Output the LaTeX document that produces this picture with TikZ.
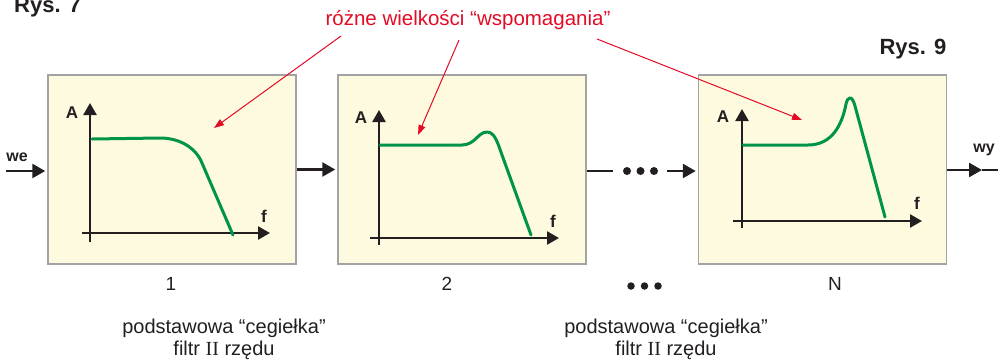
\documentclass[tikz,border=0pt]{standalone}
\usepackage{fontspec}
\setmainfont{Liberation Sans}
\newfontfamily\romfont{Liberation Serif}
\usetikzlibrary{arrows.meta}
\definecolor{boxfill}{HTML}{FEFAE0}
\definecolor{boxedge}{HTML}{A3A3A3}
\definecolor{curvegreen}{HTML}{00944A}
\definecolor{annred}{HTML}{E30B25}
\definecolor{ink}{HTML}{231F20}
\begin{document}
\begin{tikzpicture}[x=1pt,y=-1pt,
 blk/.style={draw=boxedge,line width=1.5pt,fill=boxfill,minimum width=248pt,minimum height=189pt,inner sep=0pt},
 axis/.style={ink,line width=2.4pt,-{Triangle[length=12pt,width=13pt]}},
 conn/.style={ink,line width=2.6pt},
 arr/.style={conn,-{Triangle[length=13pt,width=14pt]}},
 resp/.style={curvegreen,line width=3pt,line cap=round,line join=round},
 pointer/.style={annred,line width=1pt,-{Triangle[length=10pt,width=7pt]}},
 axlbl/.style={ink,font=\fontsize{17}{17}\bfseries\selectfont,inner sep=0pt},
 iolbl/.style={ink,font=\fontsize{16}{16}\bfseries\selectfont,inner sep=0pt},
 title/.style={ink,font=\fontsize{22}{22}\bfseries\selectfont,inner sep=0pt},
 num/.style={ink,font=\fontsize{19}{19}\selectfont,inner sep=0pt},
 caption/.style={ink,font=\fontsize{20}{22}\selectfont,align=center,inner sep=0pt},
 dot/.style={circle,fill=ink,inner sep=0pt,minimum size=8pt}
]
\useasboundingbox (0,0) rectangle (998,360);

% titles
\node[title,anchor=base west] (rys7) at (14,12) {Rys. 7};
\node[title] (rys9) at (913,49) {Rys. 9};

% red annotation
\node[annred,font=\fontsize{20.5}{21}\selectfont,inner sep=0pt] (note) at (468,20) {różne wielkości “wspomagania”};

% blocks
\node[blk] (b1) at (172,169.5) {};
\node[blk] (b2) at (462,169.5) {};
\node[blk] (b3) at (822.5,169.5) {};

% block 1 plot
\draw[axis] (82,233) -- (270,233);
\draw[axis] (90,242) -- (90,103);
\node[axlbl] (a1) at (72,113) {A};
\node[axlbl] (f1) at (264,216) {f};
\draw[resp] (92,139) -- (160,138) .. controls (180,138) and (196,148) .. (202,163) -- (233,235);

% block 2 plot
\draw[axis] (370,238) -- (559,238);
\draw[axis] (379,245) -- (379,110);
\node[axlbl] (a2) at (361,118) {A};
\node[axlbl] (f2) at (553,221) {f};
\draw[resp] (380,145) -- (462,145) .. controls (475,145) and (478,132) .. (487,132) .. controls (495,132) and (498,144) .. (502,155) -- (531,235);

% block 3 plot
\draw[axis] (733,221) -- (922,221);
\draw[axis] (742,228) -- (742,109);
\node[axlbl] (a3) at (723,117) {A};
\node[axlbl] (f3) at (917,203) {f};
\draw[resp] (743,145) -- (808,145) .. controls (832,145) and (842,125) .. (846,104) .. controls (848,96) and (852,95) .. (855,106) -- (885,217);

% signal path
\coordinate (in) at (6,171);
\node[iolbl] (we) at (17,157) {we};
\draw[arr] (in) -- ([xshift=-2pt]b1.west |- in);
\draw[arr] (b1.east) -- ([xshift=-2pt]b2.west);
\coordinate (gapA) at (613,171);
\coordinate (gapB) at (667,171);
\draw[conn] (b2.east |- gapA) -- (gapA);
\node[dot] (d1) at (627,171) {};
\node[dot] (d2) at (640.5,171) {};
\node[dot] (d3) at (654,171) {};
\draw[arr] (gapB) -- ([xshift=-2pt]b3.west |- gapB);
\coordinate (outtip) at (982,170);
\coordinate (out) at (998,170);
\draw[arr] (b3.east |- outtip) -- (outtip);
\draw[conn] (outtip) -- (out);
\node[iolbl] (wy) at (984,150) {wy};

% red pointers
\coordinate (p1) at (341,36);
\coordinate (p2) at (459,40);
\coordinate (p3) at (597,39);
\coordinate (t1) at (214,128);
\coordinate (t2) at (418,135);
\coordinate (t3) at (802,120);
\draw[pointer] (p1) -- (t1);
\draw[pointer] (p2) -- (t2);
\draw[pointer] (p3) -- (t3);

% numbers
\node[num] (n1) at (171,284) {1};
\node[num] (n2) at (447,284) {2};
\node[dot,minimum size=7.5pt] (e1) at (631,286) {};
\node[dot,minimum size=7.5pt] (e2) at (644.5,286) {};
\node[dot,minimum size=7.5pt] (e3) at (658,286) {};
\node[num] (nN) at (835,284) {N};

% captions
\node[caption] (c1) at (224,339) {podstawowa “cegiełka”\\filtr {\romfont II} rzędu};
\node[caption] (c2) at (666,339) {podstawowa “cegiełka”\\filtr {\romfont II} rzędu};
\end{tikzpicture}
\end{document}
